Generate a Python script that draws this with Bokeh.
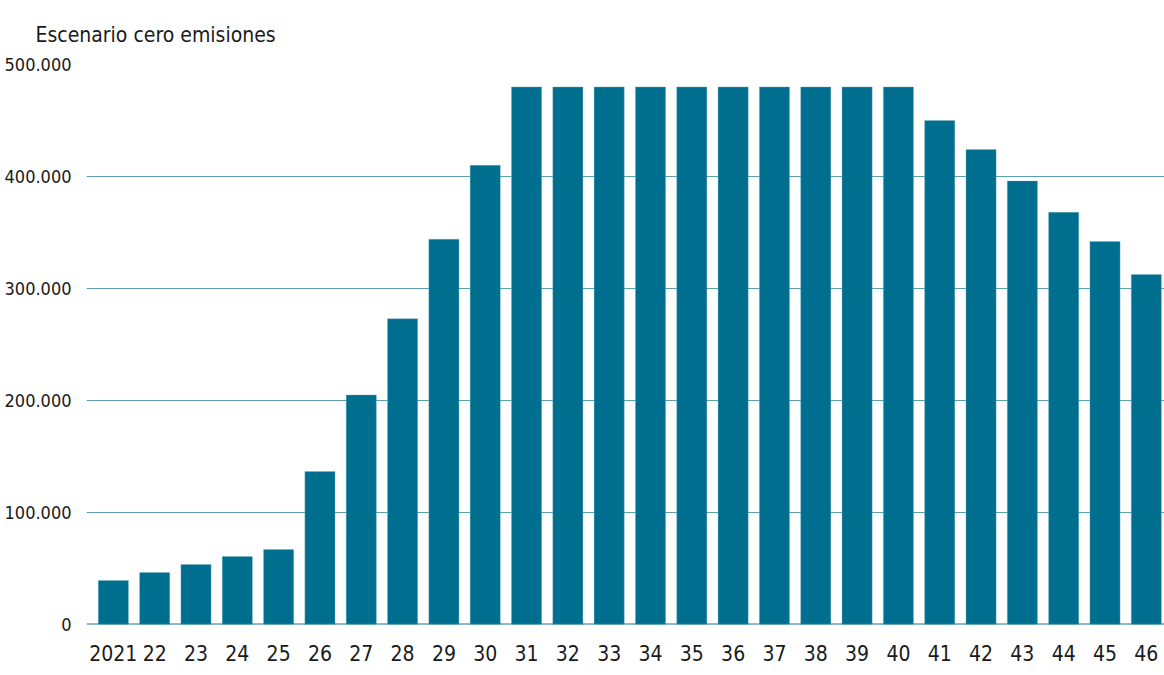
from bokeh.plotting import figure
from bokeh.models import FixedTicker, Title, Span
from bokeh.embed import file_html
from bokeh.resources import INLINE

years = ["2021", "22", "23", "24", "25", "26", "27", "28", "29", "30", "31", "32", "33",
         "34", "35", "36", "37", "38", "39", "40", "41", "42", "43", "44", "45", "46"]
values = [39300, 46400, 53600, 60700, 67000, 136600, 205000, 273000, 344000, 410000,
          480000, 480000, 480000, 480000, 480000, 480000, 480000, 480000, 480000, 480000,
          450000, 424000, 396000, 368000, 342000, 312500]
y_ticks = [0, 100000, 200000, 300000, 400000, 500000]
y_labels = ["0", "100.000", "200.000", "300.000", "400.000", "500.000"]
title_text = "Escenario cero emisiones"

FONT = "'DejaVu Sans Condensed', 'Liberation Sans Narrow', 'Roboto Condensed', Roboto, sans-serif"
BAR = "#006f8f"

xs = list(range(len(years)))

p = figure(width=1164, height=672, output_backend="svg", toolbar_location=None,
           x_range=(-0.65, len(years) - 0.56), y_range=(0, 500000),
           min_border_left=86, min_border_right=0, min_border_top=64, min_border_bottom=48)

p.vbar(x=xs, top=values, width=0.73, color=BAR, line_color="#7fb3c5", line_width=0.6, line_alpha=0.6)

p.add_layout(Title(text=title_text, text_font=FONT, text_font_size="21px",
                   text_font_style="normal", text_color="#1a1a1a", align="left", offset=-51,
                   standoff=36), "above")

p.outline_line_color = None
p.background_fill_color = "white"
p.border_fill_color = "white"

p.xaxis.ticker = FixedTicker(ticks=xs)
p.xaxis.major_label_overrides = {i: y for i, y in enumerate(years)}
p.xaxis.axis_line_color = None
p.xaxis.major_tick_line_color = None
p.xaxis.minor_tick_line_color = None
p.xaxis.major_label_text_font = FONT
p.xaxis.major_label_text_font_size = "21px"
p.xaxis.major_label_text_color = "#1a1a1a"
p.xaxis.major_label_standoff = 14

p.yaxis.ticker = FixedTicker(ticks=y_ticks)
p.yaxis.major_label_overrides = {t: l for t, l in zip(y_ticks, y_labels)}
p.yaxis.axis_line_color = None
p.yaxis.major_tick_line_color = None
p.yaxis.minor_tick_line_color = None
p.yaxis.major_label_text_font = FONT
p.yaxis.major_label_text_font_size = "18px"
p.yaxis.major_label_text_color = "#1a1a1a"
p.yaxis.major_label_standoff = 9

p.xgrid.grid_line_color = None
p.ygrid.grid_line_color = "#5a9fb5"
p.ygrid.grid_line_width = 1.2
p.ygrid.level = "underlay"

p.add_layout(Span(location=0, dimension="width", line_color="#1f7795", line_width=2))

open("out.html", "w").write(file_html(p, INLINE))
